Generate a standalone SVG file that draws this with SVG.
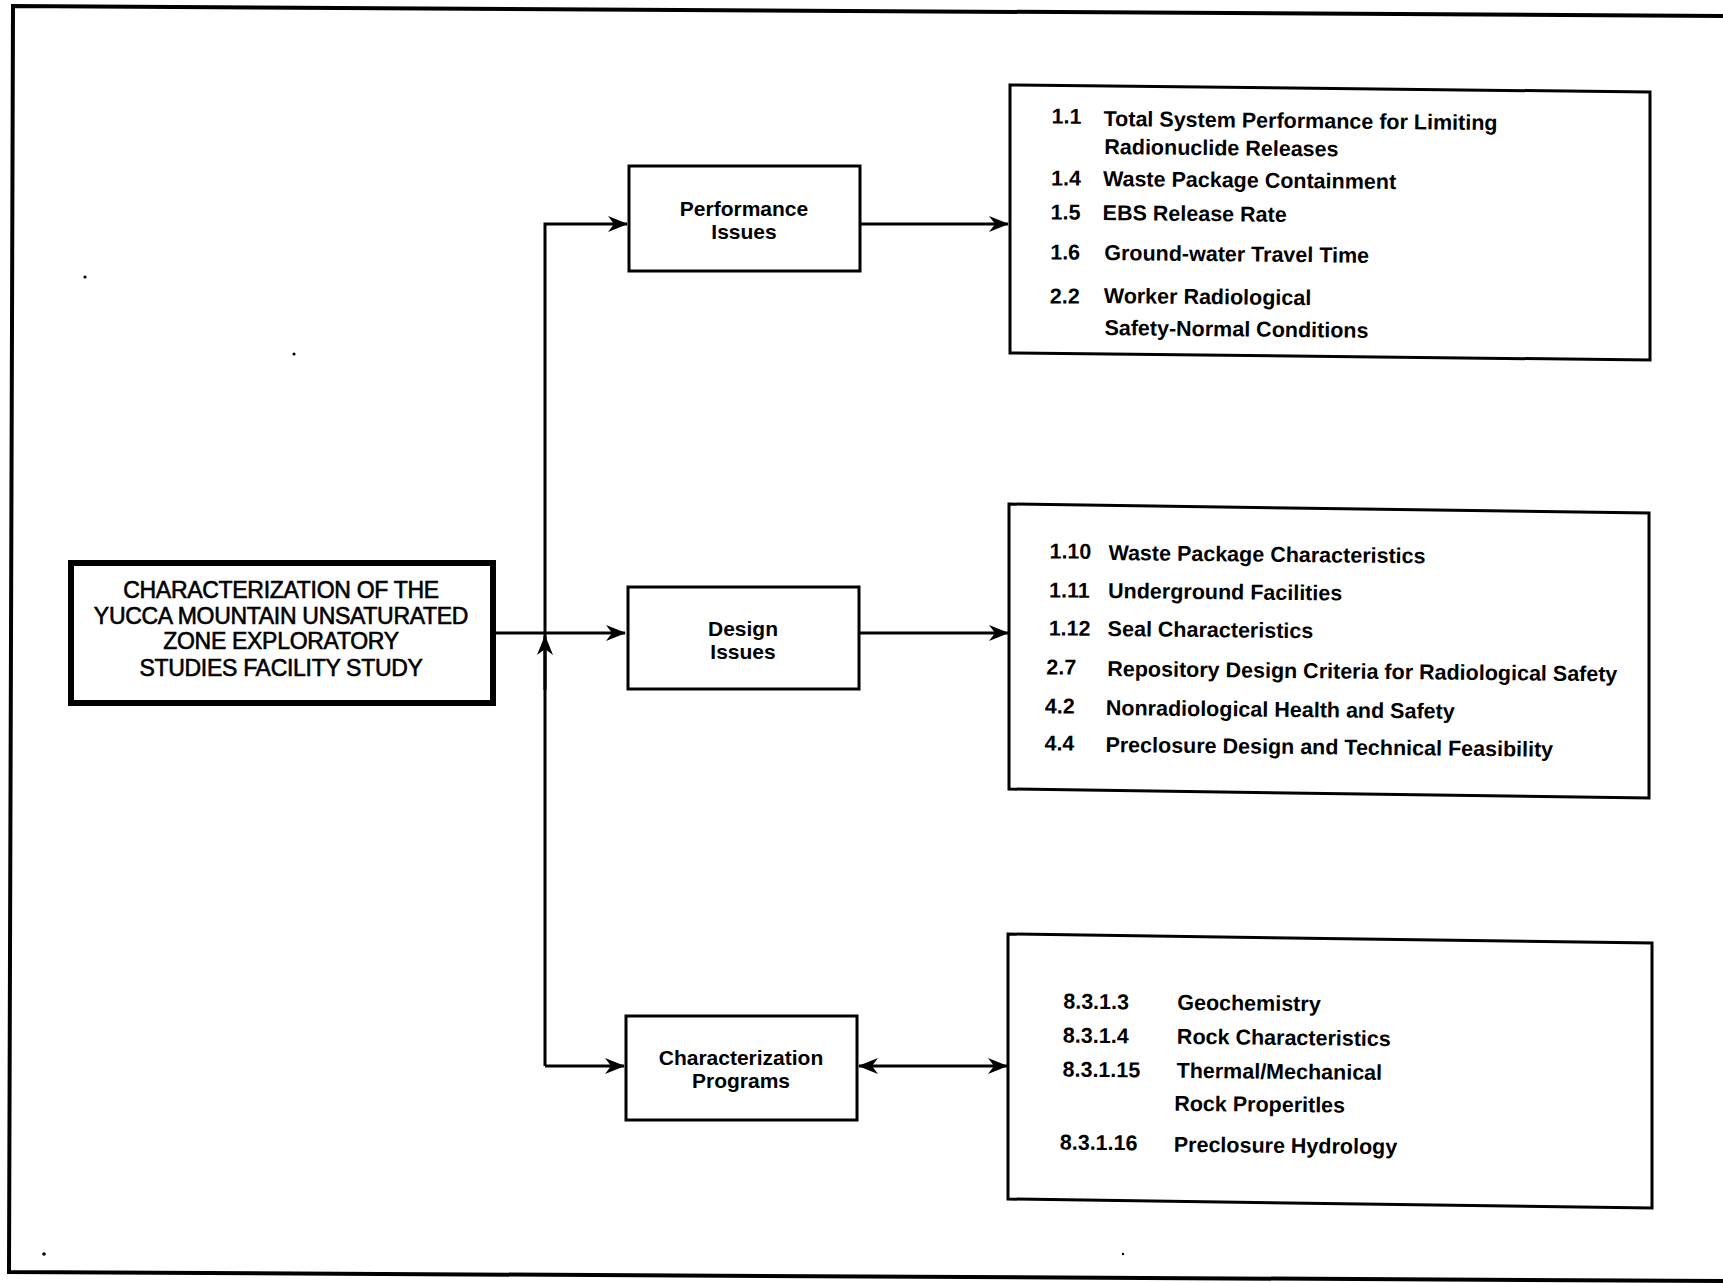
<svg xmlns="http://www.w3.org/2000/svg" width="1723" height="1283" viewBox="0 0 1723 1283">
  <style>
    .frame { fill: none; stroke: #000; stroke-width: 4; }
    .box { fill: #fff; stroke: #000; stroke-width: 3; }
    .main { fill: #fff; stroke: #000; stroke-width: 6; }
    .wire { fill: none; stroke: #000; stroke-width: 3; }
    .title { font-family: "Liberation Sans", Arial, sans-serif; font-size: 23px; letter-spacing: -0.3px; text-anchor: middle; fill: #000; stroke: #000; stroke-width: 0.6; }
    .label { font-family: "Liberation Sans", Arial, sans-serif; font-weight: bold; font-size: 21px; text-anchor: middle; fill: #000; }
    .item { font-family: "Liberation Sans", Arial, sans-serif; font-weight: bold; font-size: 21.5px; fill: #000; }
    .speck { fill: #000; }
  </style>
  <defs>
    <marker id="head" viewBox="0 0 20 16" refX="19" refY="8" markerWidth="20" markerHeight="16" markerUnits="userSpaceOnUse" orient="auto-start-reverse">
      <path d="M0,0 L20,8 L0,16 L6,8 Z" fill="#000"/>
    </marker>
  </defs>

  <rect width="1723" height="1283" fill="#fff"/>

  <!-- page frame -->
  <path class="frame" d="M1723,16 L13,6 L9,1272 L1723,1281"/>

  <!-- connectors -->
  <g id="connectors">
    <path class="wire" d="M493,633 L625,633" marker-end="url(#head)"/>
    <path class="wire" d="M545,1066 L545,224 L627,224" marker-end="url(#head)"/>
    <path class="wire" d="M545,1066 L624,1066" marker-end="url(#head)"/>
    <path class="wire" d="M545,690 L545,636" marker-end="url(#head)"/>
    <path class="wire" d="M860,224 L1008,224" marker-end="url(#head)"/>
    <path class="wire" d="M859,633 L1008,633" marker-end="url(#head)"/>
    <path class="wire" d="M859,1066 L1007,1066" marker-start="url(#head)" marker-end="url(#head)"/>
  </g>

  <!-- root node -->
  <g id="node-study">
    <rect class="main" x="71" y="563" width="422" height="140"/>
    <text class="title" x="281" y="598">CHARACTERIZATION OF THE</text>
    <text class="title" x="281" y="624">YUCCA MOUNTAIN UNSATURATED</text>
    <text class="title" x="281" y="649">ZONE EXPLORATORY</text>
    <text class="title" x="281" y="676">STUDIES FACILITY STUDY</text>
  </g>

  <g id="node-performance">
    <rect class="box" x="629" y="166" width="231" height="105"/>
    <text class="label" x="744" y="216">Performance</text>
    <text class="label" x="744" y="239">Issues</text>
  </g>

  <g id="node-design">
    <rect class="box" x="628" y="587" width="231" height="102"/>
    <text class="label" x="743" y="636">Design</text>
    <text class="label" x="743" y="659">Issues</text>
  </g>

  <g id="node-programs">
    <rect class="box" x="626" y="1016" width="231" height="104"/>
    <text class="label" x="741" y="1065">Characterization</text>
    <text class="label" x="741" y="1088">Programs</text>
  </g>

  <!-- performance issue list (sheet is slightly tilted) -->
  <g id="node-performance-list">
    <path class="box" d="M1010,85 L1650,92 L1650,360 L1010,353 Z"/>
    <g class="item" transform="rotate(0.6 1010 85)">
      <text x="1052" y="123">1.1</text><text x="1104" y="125">Total System Performance for Limiting</text>
      <text x="1105" y="153">Radionuclide Releases</text>
      <text x="1052" y="185">1.4</text><text x="1104" y="185">Waste Package Containment</text>
      <text x="1052" y="219">1.5</text><text x="1104" y="219">EBS Release Rate</text>
      <text x="1052" y="259">1.6</text><text x="1106" y="259">Ground-water Travel Time</text>
      <text x="1052" y="303">2.2</text><text x="1106" y="302">Worker Radiological</text>
      <text x="1107" y="334">Safety-Normal Conditions</text>
    </g>
  </g>

  <!-- design issue list -->
  <g id="node-design-list">
    <path class="box" d="M1009,504 L1649,513 L1649,798 L1009,789 Z"/>
    <g class="item" transform="rotate(0.6 1009 504)">
      <text x="1050" y="558">1.10</text><text x="1109" y="559">Waste Package Characteristics</text>
      <text x="1050" y="597">1.11</text><text x="1109" y="597">Underground Facilities</text>
      <text x="1050" y="635">1.12</text><text x="1109" y="635">Seal Characteristics</text>
      <text x="1048" y="674">2.7</text><text x="1109" y="675">Repository Design Criteria for Radiological Safety</text>
      <text x="1047" y="713">4.2</text><text x="1108" y="714">Nonradiological Health and Safety</text>
      <text x="1047" y="750">4.4</text><text x="1108" y="751">Preclosure Design and Technical Feasibility</text>
    </g>
  </g>

  <!-- characterization program list -->
  <g id="node-programs-list">
    <path class="box" d="M1008,934 L1652,943 L1652,1208 L1008,1199 Z"/>
    <g class="item" transform="rotate(0.6 1008 934)">
      <text x="1064" y="1008">8.3.1.3</text><text x="1178" y="1008">Geochemistry</text>
      <text x="1064" y="1042">8.3.1.4</text><text x="1178" y="1042">Rock Characteristics</text>
      <text x="1064" y="1076">8.3.1.15</text><text x="1178" y="1076">Thermal/Mechanical</text>
      <text x="1176" y="1109">Rock Properitles</text>
      <text x="1062" y="1149">8.3.1.16</text><text x="1176" y="1150">Preclosure Hydrology</text>
    </g>
  </g>

  <!-- stray marks -->
  <circle class="speck" cx="85" cy="277" r="1.6"/>
  <circle class="speck" cx="294" cy="354" r="1.6"/>
  <circle class="speck" cx="44" cy="1254" r="1.8"/>
  <circle class="speck" cx="1123" cy="1254" r="1.2"/>
</svg>
